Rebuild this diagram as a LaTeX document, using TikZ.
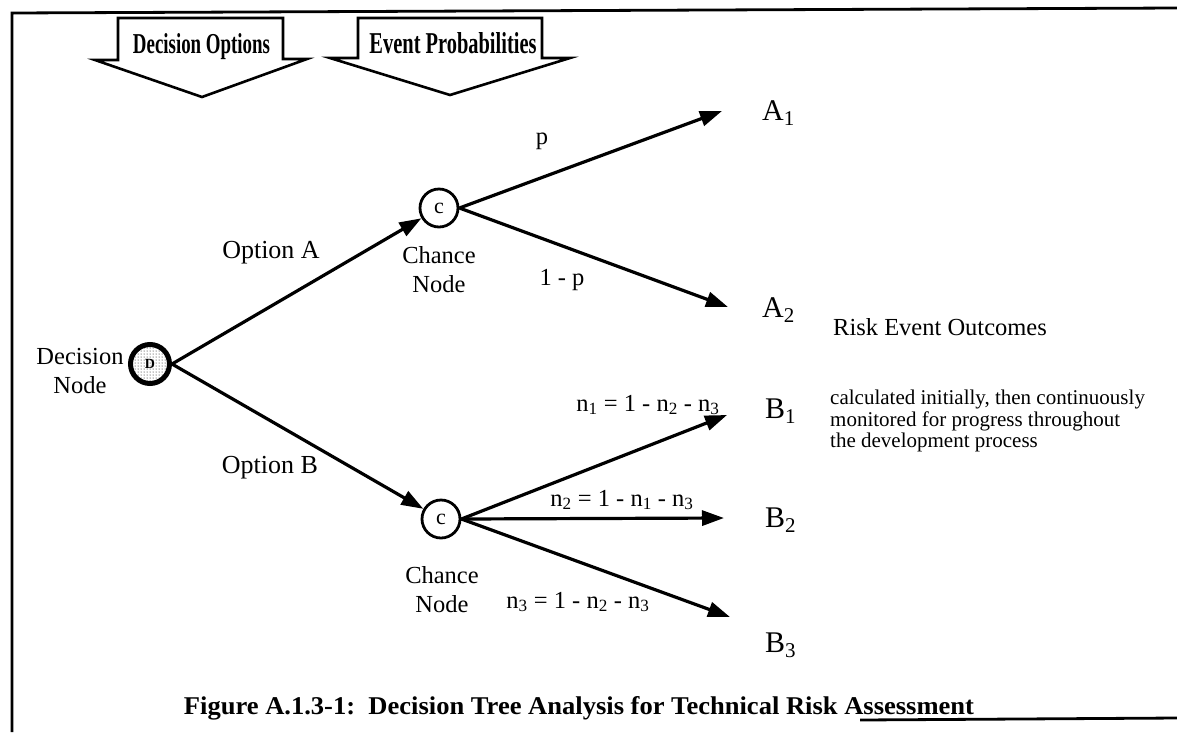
\documentclass[tikz,border=0pt]{standalone}
\usepackage{fontspec}
\usepackage{graphicx}
\setmainfont{Liberation Serif}
\usetikzlibrary{arrows.meta,patterns}
\begin{document}
\begin{tikzpicture}[x=1pt,y=-1pt,
  lbl/.style={font=\fontsize{24.5}{29}\selectfont, align=center, inner sep=0pt},
  optlbl/.style={font=\fontsize{26}{29}\selectfont, align=center, inner sep=0pt},
  outc/.style={font=\fontsize{30}{32}\selectfont, anchor=base west, inner sep=0pt},
  edge/.style={line width=3.2pt, -{Triangle[length=22pt,width=15pt]}},
  chance/.style={circle, draw, line width=2.8pt, minimum size=38pt, inner sep=0pt, font=\fontsize{22}{22}\selectfont},
  decision/.style={circle, draw, line width=5pt, minimum size=39pt, inner sep=0pt, pattern=dots, font=\bfseries\fontsize{14}{14}\selectfont},
  banner/.style={draw, line width=2.6pt, fill=white, line join=miter},
]
\fill[white] (0,0) rectangle (1177,732);
\useasboundingbox (0,0) rectangle (1177,732);
% frame
\draw[line width=2.8pt] (12,732) -- (12,13) -- (1177,8);
\draw[line width=2.8pt] (860,720) -- (1177,718);
% banners
\draw[banner] (118,18) -- (283,18) -- (283,59) -- (307,59) -- (202,97) -- (95,60) -- (118,60) -- cycle;
\draw[banner] (358,18) -- (542,18) -- (542,58) -- (570,58) -- (450,95) -- (330,58) -- (358,58) -- cycle;
\node[anchor=base, inner sep=0pt] (dopt) at (201.5,53) {\resizebox{137pt}{20pt}{\bfseries Decision Options}};
\node[anchor=base, inner sep=0pt] (eprob) at (453,53) {\resizebox{167pt}{21pt}{\bfseries Event Probabilities}};
% nodes
\node[decision] (D) at (150,364) {D};
\node[lbl] (dlab) at (80,371) {Decision\\Node};
\node[chance] (CA) at (439,208) {c};
\node[chance] (CB) at (441,519) {c};
\node[lbl] (calab) at (439,270) {Chance\\Node};
\node[lbl] (cblab) at (442,590) {Chance\\Node};
% arrow tips
\coordinate (ta1) at (722,111);
\coordinate (ta2) at (728,307);
\coordinate (tb1) at (727,415);
\coordinate (tb2) at (724,518);
\coordinate (tb3) at (730,617);
% edges
\draw[edge] (D.east) -- (CA);
\draw[edge] (D.east) -- (CB);
\draw[edge] (CA.east) -- (ta1);
\draw[edge] (CA.east) -- (ta2);
\draw[edge] (CB.east) -- (tb1);
\draw[edge] (CB.east) -- (tb2);
\draw[edge] (CB.east) -- (tb3);
% edge labels
\node[optlbl] (oa) at (271,253) {Option A};
\node[optlbl] (ob) at (270,468) {Option B};
\node[lbl] (pl) at (542,141) {p};
\node[lbl] (qp) at (562,280) {1 - p};
\node[lbl] (n1) at (648,405) {n\textsubscript{1} = 1 - n\textsubscript{2} - n\textsubscript{3}};
\node[lbl] (n2) at (622,500) {n\textsubscript{2} = 1 - n\textsubscript{1} - n\textsubscript{3}};
\node[lbl] (n3) at (578,602) {n\textsubscript{3} = 1 - n\textsubscript{2} - n\textsubscript{3}};
% outcomes
\node[outc] (A1) at (762,120) {A\textsubscript{1}};
\node[outc] (A2) at (762,317) {A\textsubscript{2}};
\node[outc] (B1) at (765,418) {B\textsubscript{1}};
\node[outc] (B2) at (765,527) {B\textsubscript{2}};
\node[outc] (B3) at (765,652) {B\textsubscript{3}};
\node[anchor=base west, inner sep=0pt, font=\fontsize{24.5}{26}\selectfont] (reo) at (833,335) {Risk Event Outcomes};
\node[anchor=north west, inner sep=0pt, align=left, font=\fontsize{21}{21.5}\selectfont] (note) at (830,390) {calculated initially, then continuously\\monitored for progress throughout\\the development process};
% caption
\node[anchor=base, inner sep=0pt] (cap) at (579,714) {\resizebox{790pt}{18pt}{\bfseries Figure A.1.3-1:\ \ Decision Tree Analysis for Technical Risk Assessment}};
\end{tikzpicture}
\end{document}
